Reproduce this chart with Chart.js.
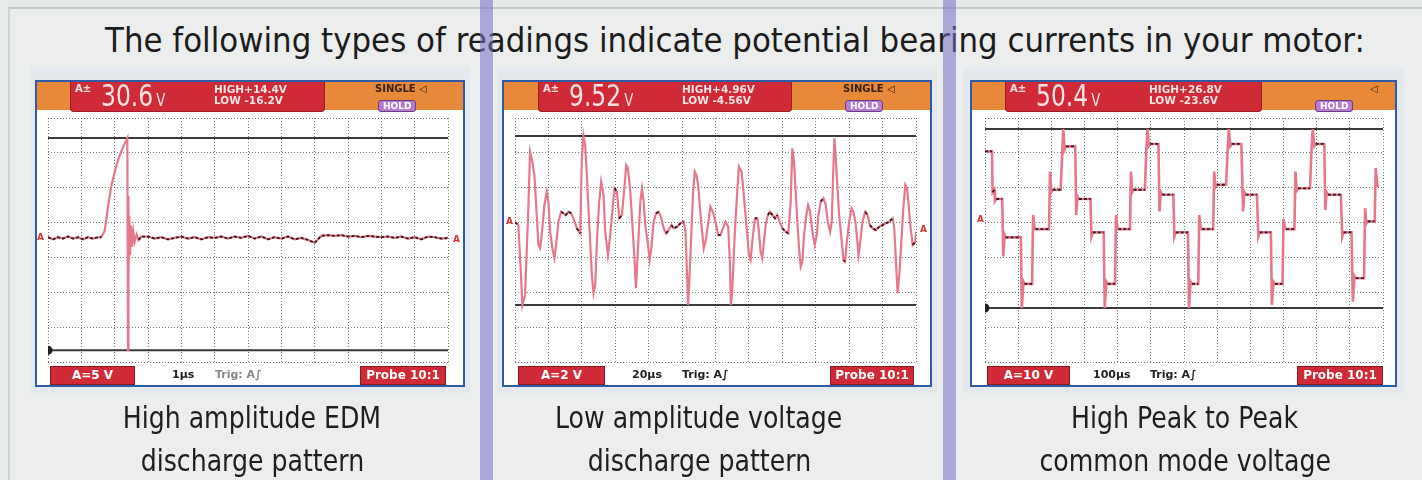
<!DOCTYPE html>
<html>
<head>
<meta charset="utf-8">
<script src="https://cdn.jsdelivr.net/npm/chart.js@4.4.0/dist/chart.umd.min.js"></script>
<style>
  body { margin:0; width:1422px; height:480px; overflow:hidden; background:#e8e9e9; position:relative; font-family:"DejaVu Sans", sans-serif; }
  .frame { position:absolute; left:8px; top:7px; right:-4px; bottom:-4px; border-top:2px solid #c6c9c9; border-left:2px solid #d0d3d3; background:#eceeee; }
  .glow { position:absolute; top:67px; height:326px; background:#e3e9ec; }
  .band { position:absolute; top:0; width:13px; height:480px; background:rgba(117,112,197,0.55); z-index:10; }
  .title { position:absolute; left:35px; width:1400px; top:23px; text-align:center; font-size:34px; line-height:34px; color:#1c1c1c; }
  .cap { position:absolute; width:600px; text-align:center; font-size:31px; line-height:30px; color:#1e1e1e; }
  .fit { display:inline-block; white-space:nowrap; transform-origin:center; }
  .scope { position:absolute; top:80px; height:307px; box-sizing:border-box; border:2px solid #2e5aa6; background:#fff; }
  .scope canvas { position:absolute; left:0; top:28px; }
  .hdr { position:absolute; left:0; right:0; top:0; height:28px; background:#e8893a; }
  .red { position:absolute; top:0; height:30px; background:#d02a36; border:1px solid #9c1b25; border-top:none; box-sizing:border-box; border-radius:0 0 4px 4px; color:#fbe3e5; }
  .ach { position:absolute; left:4px; top:2px; font:bold 10px/10px "DejaVu Sans"; }
  .big { position:absolute; left:30px; top:-1px; font:30px/30px "DejaVu Sans"; transform:scaleX(.78); transform-origin:left; white-space:nowrap; }
  .big small { font-size:17px; margin-left:4px; }
  .hl { position:absolute; left:143px; top:2px; font:bold 10.5px/11px "DejaVu Sans"; white-space:nowrap; }
  .single { position:absolute; top:2px; font:bold 10px/10px "DejaVu Sans"; color:#3a230f; white-space:nowrap; }
  .hold { position:absolute; top:18px; height:12px; box-sizing:border-box; padding:0 4px; background:#b57bd0; border:1px solid #6a3c80; border-radius:3px; color:#fff; font:bold 9px/10px "DejaVu Sans"; }
  .fbox { position:absolute; top:284px; height:19px; box-sizing:border-box; background:#cf2a36; border:1px solid #8e1622; color:#fff; font:bold 12px/17px "DejaVu Sans"; text-align:center; white-space:nowrap; }
  .ftxt { position:absolute; top:286px; font:bold 11px/14px "DejaVu Sans"; color:#222; white-space:nowrap; }
  .mk { position:absolute; font:bold 9px/9px "DejaVu Sans"; color:#d33; }
</style>
</head>
<body>
<div class="frame"></div>
<div class="glow" style="left:30px;width:440px"></div>
<div class="glow" style="left:497px;width:440px"></div>
<div class="glow" style="left:963px;width:441px"></div>

<div class="title"><span class="fit" id="title">The following types of readings indicate potential bearing currents in your motor:</span></div>

<!-- scope 1 -->
<div class="scope" style="left:35px;width:430px">
  <canvas id="edm" width="426" height="275"></canvas>
  <div class="hdr"></div>
  <div class="red" style="left:33px;width:255px">
    <span class="ach">A±</span>
    <span class="big">30.6<small>V</small></span>
    <span class="hl">HIGH+14.4V<br>LOW -16.2V</span>
  </div>
  <span class="single" style="left:338px">SINGLE ◁</span>
  <span class="hold" style="left:341px">HOLD</span>
  <span class="mk" style="left:0;top:151px">A</span>
  <span class="mk" style="left:416px;top:153px">A</span>
  <div class="fbox" style="left:13px;width:85px">A=5 V</div>
  <span class="ftxt" style="left:135px">1µs</span>
  <span class="ftxt" style="left:178px;color:#888">Trig: A∫</span>
  <div class="fbox" style="left:323px;width:86px">Probe 10:1</div>
</div>

<!-- scope 2 -->
<div class="scope" style="left:502px;width:430px">
  <canvas id="low" width="426" height="275"></canvas>
  <div class="hdr"></div>
  <div class="red" style="left:34px;width:254px">
    <span class="ach">A±</span>
    <span class="big">9.52<small>V</small></span>
    <span class="hl">HIGH+4.96V<br>LOW -4.56V</span>
  </div>
  <span class="single" style="left:339px">SINGLE ◁</span>
  <span class="hold" style="left:341px">HOLD</span>
  <span class="mk" style="left:2px;top:135px">A</span>
  <span class="mk" style="left:416px;top:143px">A</span>
  <div class="fbox" style="left:14px;width:87px">A=2 V</div>
  <span class="ftxt" style="left:128px">20µs</span>
  <span class="ftxt" style="left:178px">Trig: A∫</span>
  <div class="fbox" style="left:326px;width:84px">Probe 10:1</div>
</div>

<!-- scope 3 -->
<div class="scope" style="left:970px;width:427px">
  <canvas id="cm" width="423" height="275"></canvas>
  <div class="hdr"></div>
  <div class="red" style="left:33px;width:257px">
    <span class="ach">A±</span>
    <span class="big">50.4<small>V</small></span>
    <span class="hl">HIGH+26.8V<br>LOW -23.6V</span>
  </div>
  <span class="single" style="left:398px">◁</span>
  <span class="hold" style="left:343px">HOLD</span>
  <span class="mk" style="left:5px;top:133px">A</span>
  <div class="fbox" style="left:15px;width:83px">A=10 V</div>
  <span class="ftxt" style="left:121px">100µs</span>
  <span class="ftxt" style="left:178px">Trig: A∫</span>
  <div class="fbox" style="left:325px;width:86px">Probe 10:1</div>
</div>

<div class="cap" style="left:-48px;top:402px"><span class="fit">High amplitude EDM</span></div>
<div class="cap" style="left:-48px;top:445px"><span class="fit">discharge pattern</span></div>
<div class="cap" style="left:399px;top:402px"><span class="fit" id="refcap">Low amplitude voltage</span></div>
<div class="cap" style="left:399px;top:445px"><span class="fit">discharge pattern</span></div>
<div class="cap" style="left:885px;top:402px"><span class="fit">High Peak to Peak</span></div>
<div class="cap" style="left:885px;top:445px"><span class="fit">common mode voltage</span></div>

<div class="band" style="left:480px"></div>
<div class="band" style="left:943px"></div>

<script>
// ---- scope 1: high amplitude EDM discharge (1 µs/div, 5 V/div)
const edmTime = [0, 0.15, 0.3, 0.45, 0.6, 0.75, 0.9, 1.05, 1.2, 1.35, 1.5,
  1.6, 1.7, 1.8, 1.9, 2.0, 2.1, 2.2, 2.3, 2.38,
  2.4, 2.41, 2.42, 2.44, 2.46, 2.49, 2.52, 2.56, 2.6, 2.66, 2.72, 2.8,
  3.0, 3.2, 3.4, 3.6, 3.8, 4.0, 4.2, 4.4, 4.6, 4.8,
  5.0, 5.2, 5.4, 5.6, 5.8, 6.0, 6.2, 6.4, 6.6, 6.8,
  7.0, 7.2, 7.4, 7.6, 7.8, 8.0, 8.2, 8.4, 8.6, 8.8,
  9.0, 9.2, 9.4, 9.6, 9.8, 10.0, 10.2, 10.4, 10.6, 10.8,
  11.0, 11.2, 11.4, 11.6, 11.8, 12.0];
const edmVolt = [0.1, -0.2, 0.1, -0.1, 0.2, -0.1, 0.1, -0.2, 0.1, -0.1, 0.1,
  0.1, 1.0, 4.5, 7.5, 9.5, 11.2, 12.5, 13.6, 14.4,
  -16.2, 6.0, -5.3, 3.2, -2.5, 1.8, -1.3, 0.9, -0.6, 0.5, -0.3, 0.2,
  0.2, -0.1, 0.1, -0.2, 0.0, 0.2, -0.1, 0.1, -0.2, 0.1,
  0.0, 0.2, -0.1, 0.2, 0.0, 0.3, -0.1, 0.2, -0.2, 0.1,
  -0.1, 0.2, -0.2, 0.0, -0.3, -0.7, 0.3, 0.4, 0.3, 0.4,
  0.2, 0.3, 0.1, 0.3, 0.2, 0.1, 0.2, 0.0, 0.2, -0.1,
  0.1, -0.2, 0.2, 0.1, -0.1, 0.0];
const edmCursors = [14.4, -16.2];

// ---- scope 2: low amplitude voltage discharge (20 µs/div, 2 V/div)
const lowTime = [0, 2, 3.6, 4.4, 6, 8, 9, 10.4, 11.6, 13,
  14, 15, 16, 17.6, 19, 20, 21, 22.4, 23.6, 24.6,
  26, 27.6, 29, 30.4, 32, 33.6, 35, 37, 39, 40,
  41, 42, 43, 44.4, 46, 47, 48, 49, 50.4, 51.6,
  53, 54, 55.6, 57, 58.4, 59.6, 61, 62.4, 64, 65.6,
  66.6, 67.6, 69, 70.4, 71.6, 72.4, 73.6, 75, 76, 77,
  78, 79.6, 80.6, 81.6, 83, 84.4, 86, 87.6, 89, 90.4,
  92, 93.6, 95, 97, 99, 101, 102, 103, 103.6, 104.4,
  105.6, 106.6, 107.6, 108.6, 109.6, 110.4, 111.6, 113, 114.4, 116,
  117, 118.4, 120, 121.6, 123, 124.4, 126, 127.6, 128.6, 129.2,
  130, 131.6, 133, 134, 135.6, 136.6, 137.6, 139, 140, 141,
  142, 143.6, 145, 146, 147, 148, 149, 150, 151.4, 152.6,
  154, 155.6, 157, 158.4, 160, 162, 163.6, 165, 166, 167,
  168, 169, 170, 171, 172, 173, 174.4, 175.4, 176.6, 178,
  179.4, 180.6, 181.6, 183, 184.6, 186, 187.2, 188.6, 189.6, 190.4,
  191.2, 192, 193, 194, 195.4, 196.6, 197.6, 198.6, 200, 201.4,
  202.6, 204, 205.6, 206.6, 208, 209.6, 211, 212.4, 214, 216,
  218, 220, 222, 224, 226, 227, 228, 229, 230, 231,
  232.4, 233.6, 234.6, 235.6, 236.6, 238, 239.6, 240];
const lowVolt = [0.1, -0.06, -2.87, -4.56, -4.0, 0.88, 4.07, 3.51, 2.76, 0.51,
  -1.18, -1.37, -0.62, 1.07, 1.82, 1.26, -0.43, -1.37, -1.93, -1.18,
  0.13, 0.69, 0.6, 0.51, 0.69, 0.6, 0.32, -0.24, -0.53, 3.7,
  4.96, 4.45, 2.76, 0.04, -2.87, -3.91, -3.44, -1.0, 1.26, 2.39,
  1.63, -0.43, -1.75, -0.62, 0.88, 2.01, 1.82, 0.32, 0.51, 2.2,
  3.32, 3.14, 1.82, -0.24, -2.12, -3.62, -1.37, 1.26, 2.01, 1.26,
  -0.06, -1.18, -2.03, -1.37, 0.13, 0.6, 0.69, 0.32, -0.24, -0.53,
  -0.34, -0.06, -0.24, -0.15, 0.04, 0.13, -0.43, -2.87, -4.56, -3.06,
  -0.43, 1.82, 2.95, 2.76, 2.2, 1.26, -0.06, -1.37, -0.81, 0.32,
  0.98, 0.69, 0.13, -0.62, -0.62, -0.24, 0.13, -0.15, -2.12, -4.56,
  -3.81, -0.43, 1.82, 3.23, 2.95, 2.01, 0.88, -0.62, -1.75, -2.03,
  -1.0, 0.32, 0.32, -0.43, -1.56, -1.93, -1.0, -0.06, 0.51, 0.69,
  0.51, 0.32, 0.51, 0.13, -0.24, -0.43, -0.53, 1.26, 4.26, 3.51,
  1.82, 0.13, -1.37, -2.4, -2.12, -0.62, 0.51, 1.07, 0.69, -0.43,
  -1.18, -0.62, 0.51, 1.26, 1.45, 1.07, 0.13, -0.43, 0.13, 2.76,
  4.83, 3.7, 2.01, 0.51, -0.81, -2.03, -2.12, -1.0, 0.13, 0.88,
  0.69, -0.06, -1.75, -1.0, 0.13, 0.69, 0.51, -0.06, -0.24, -0.34,
  -0.15, -0.06, 0.04, 0.13, 0.32, -0.24, -2.12, -3.91, -2.87, -1.37,
  0.88, 2.2, 2.01, 1.07, -0.06, -1.18, -1.0, -0.43];
const lowCursors = [4.96, -4.56];

// ---- scope 3: common mode voltage (100 µs/div, 10 V/div)
const cmTime = [0, 21, 23, 28, 30, 34, 52, 55, 59, 62,
  108, 111, 116, 119, 142, 145, 149, 152, 193, 196,
  200, 204, 228, 232, 236, 240, 244, 272, 275, 279,
  283, 318, 321, 325, 358, 361, 366, 370, 392, 395,
  399, 402, 437, 440, 444, 448, 482, 486, 490, 494,
  498, 523, 526, 530, 534, 568, 571, 575, 612, 615,
  620, 624, 643, 646, 650, 654, 688, 691, 695, 699,
  727, 731, 735, 740, 744, 773, 778, 782, 786, 820,
  824, 828, 862, 865, 870, 874, 897, 900, 904, 908,
  933, 936, 940, 944, 980, 984, 988, 993, 997, 1023,
  1026, 1030, 1034, 1073, 1077, 1081, 1105, 1109, 1114, 1118,
  1143, 1146, 1150, 1154, 1175, 1178, 1183, 1186];
const cmVolt = [20.5, 20.5, 9.0, 9.7, 6.5, 7.1, 7.1, -9.1, -3.0, -3.7,
  -3.7, -23.6, -16.2, -16.8, -16.8, 2.6, -0.8, -1.4, -1.4, 14.8,
  9.0, 9.7, 9.7, 18, 26.8, 21.0, 21.9, 21.9, 2.6, 7.8,
  7.1, 7.1, -3.5, -2.3, -2.3, -23.6, -16.2, -16.8, -16.8, 2.6,
  -0.8, -1.4, -1.4, 14.8, 9.0, 9.7, 9.7, 20, 26.8, 22.0,
  22.6, 22.6, 3.6, 9.0, 8.3, 8.3, -3.5, -2.3, -2.3, -23.6,
  -16.2, -16.8, -16.8, 2.6, -0.8, -1.4, -1.4, 14.8, 10.5, 11.1,
  11.1, 20, 26.8, 22.0, 22.6, 22.6, 3.6, 9.0, 8.3, 8.3,
  -3.5, -2.3, -2.3, -22.7, -16.2, -16.8, -16.8, 1.5, -0.8, -1.4,
  -1.4, 14.8, 9.5, 10.1, 10.1, 20, 26.8, 22.0, 22.6, 22.6,
  4.0, 9.0, 8.3, 8.3, -3.5, -2.3, -2.3, -21.8, -14.6, -15.2,
  -15.2, 4.5, 0.2, 0.8, 0.8, 15.8, 11.1, 10.5];
const cmCursors = [26.8, -23.6];

// screen divisions of the scope graticule
const DIV_X = 12, DIV_Y = 7;

function evenTicks(n) {
  return function (scale) {
    const ticks = [];
    for (let k = 0; k <= n; k++) ticks.push({ value: scale.min + k * (scale.max - scale.min) / n });
    scale.ticks = ticks;
  };
}

function points(xs, ys) {
  return xs.map((x, i) => ({ x: x, y: ys[i] }));
}

function drawScope(id, time, volt, cursors, xMax, yMin, yMax, pad, dot, traceWidth) {
  const gridOpts = { color: 'rgba(60,60,60,0.7)', lineWidth: 1, drawTicks: false };
  const borderOpts = { display: false, dash: [1, 2] };
  new Chart(document.getElementById(id), {
    type: 'line',
    data: {
      datasets: [
        // dark dotted overlay on the flat parts of the trace
        { data: points(time, volt), borderWidth: 1.8, borderDash: [3, 2], order: 0,
          segment: { borderColor: c => Math.abs(c.p1.y - c.p0.y) > 1.6 * Math.abs(c.p1.x - c.p0.x) ? 'rgba(0,0,0,0)' : '#3a1519' } },
        { data: points(time, volt), borderColor: '#e5788a', borderWidth: traceWidth, order: 1 },
        { data: [{ x: 0, y: cursors[0] }, { x: xMax, y: cursors[0] }], borderColor: '#3a3a3a', borderWidth: 2, order: 2 },
        { data: [{ x: 0, y: cursors[1] }, { x: xMax, y: cursors[1] }], borderColor: '#3a3a3a', borderWidth: 2, order: 2,
          pointRadius: dot ? [3.5, 0] : 0, pointBackgroundColor: '#222', pointBorderColor: '#222' }
      ]
    },
    options: {
      responsive: false,
      animation: false,
      devicePixelRatio: 1,
      layout: { padding: pad },
      plugins: { legend: { display: false }, tooltip: { enabled: false } },
      elements: { point: { radius: 0 }, line: { tension: 0 } },
      scales: {
        x: { type: 'linear', min: 0, max: xMax, ticks: { display: false }, grid: gridOpts, border: borderOpts,
             afterBuildTicks: evenTicks(DIV_X), afterFit: s => { s.height = 0; } },
        y: { type: 'linear', min: yMin, max: yMax, ticks: { display: false }, grid: gridOpts, border: borderOpts,
             afterBuildTicks: evenTicks(DIV_Y), afterFit: s => { s.width = 0; } }
      }
    }
  });
}

drawScope('edm', edmTime, edmVolt, edmCursors, 12, -17.9, 17.3, { left: 11, right: 15, top: 8, bottom: 23 }, true, 2.2);
drawScope('low', lowTime, lowVolt, lowCursors, 240, -7.77, 5.97, { left: 11, right: 14, top: 8, bottom: 23 }, false, 2.2);
drawScope('cm', cmTime, cmVolt, cmCursors, 1200, -38.8, 29.9, { left: 13, right: 12, top: 8, bottom: 23 }, true, 2.6);

// squeeze the text horizontally to the width of the reference type
const title = document.getElementById('title');
title.style.transform = 'scaleX(' + (1260 / title.offsetWidth) + ')';
const capScale = 287 / document.getElementById('refcap').offsetWidth;
document.querySelectorAll('.cap .fit').forEach(el => { el.style.transform = 'scaleX(' + capScale + ')'; });
</script>
</body>
</html>
